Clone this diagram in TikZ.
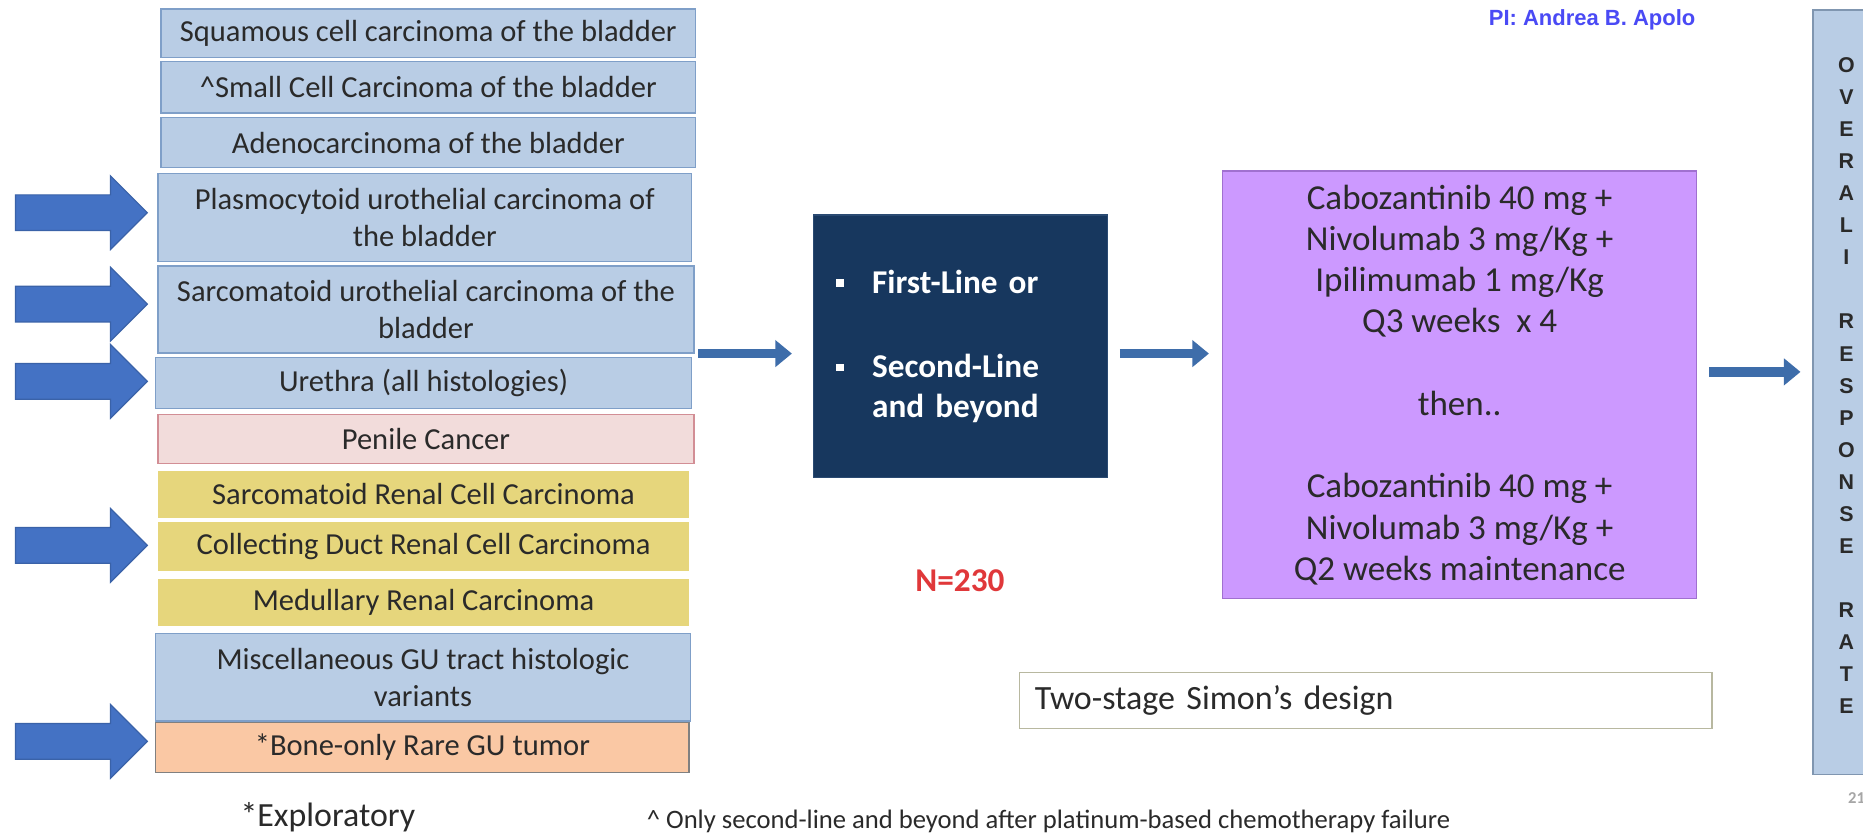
\documentclass[tikz,border=0pt]{standalone}
\usepackage{fontspec}
\setmainfont{Carlito}
\newfontfamily\headfont{Liberation Sans}
\usetikzlibrary{arrows.meta}

% palette
\definecolor{ink}{HTML}{2A2A2A}
\definecolor{blueFill}{HTML}{B9CDE5}
\definecolor{blueLine}{HTML}{7F9FC8}
\definecolor{pinkFill}{HTML}{F2DCDB}
\definecolor{pinkLine}{HTML}{D28E95}
\definecolor{yellowFill}{HTML}{E6D67C}
\definecolor{peachFill}{HTML}{FAC8A4}
\definecolor{peachLine}{HTML}{808080}
\definecolor{navy}{HTML}{17375E}
\definecolor{navyLine}{HTML}{2A4A72}
\definecolor{violet}{HTML}{CC99FF}
\definecolor{violetLine}{HTML}{A070D0}
\definecolor{orrLine}{HTML}{8096B0}
\definecolor{pointerFill}{HTML}{4472C4}
\definecolor{pointerLine}{HTML}{3A62A8}
\definecolor{flow}{HTML}{3E6DAA}
\definecolor{stageLine}{HTML}{B8B8A0}
\definecolor{nRed}{HTML}{E0383A}
\definecolor{piBlue}{HTML}{4A4AF5}

\newcommand{\sqbul}{\makebox[30pt][l]{\raisebox{5pt}{\rule{6.5pt}{6.5pt}}}}

\begin{document}
\begin{tikzpicture}[x=1pt,y=-1pt,
  box/.style={line width=1.2pt, inner sep=0pt, align=center, text=ink,
    font=\fontsize{25.7}{31}\selectfont},
  bluebox/.style={box, draw=blueLine, fill=blueFill},
  pinkbox/.style={box, draw=pinkLine, fill=pinkFill},
  yellowbox/.style={box, draw=none, fill=yellowFill},
  peachbox/.style={box, draw=peachLine, fill=peachFill},
  conn/.style={draw=flow, line width=8pt, -{Triangle[length=14pt,width=22pt]}},
  pointer/.pic={\filldraw[fill=pointerFill, draw=pointerLine, line width=1pt]
    (13,-15) -- (93,-15) -- (93,-31) -- (124,0) -- (93,31) -- (93,15) -- (13,15) -- cycle;},
  midtext/.style={font=\fontsize{29.5}{34.7}\selectfont, text=ink}
]
\useasboundingbox (0,0) rectangle (1568,703);
\fill[white] (0,0) rectangle (1568,703);

% histology column
\node[bluebox, minimum width=450pt, minimum height=41pt] (squam) at (360.5,28) {Squamous cell carcinoma of the bladder};
\node[bluebox, minimum width=450pt, minimum height=43pt] (small) at (360.5,73.5) {\textasciicircum Small Cell Carcinoma of the bladder};
\node[bluebox, minimum width=450pt, minimum height=42pt] (adeno) at (360.5,120) {Adenocarcinoma of the bladder};
\node[bluebox, minimum width=449pt, minimum height=74pt] (plasmo) at (357.5,183) {Plasmocytoid urothelial carcinoma of\\the bladder};
\node[bluebox, minimum width=451pt, minimum height=73pt] (sarcuro) at (358.5,260.5) {Sarcomatoid urothelial carcinoma of the\\bladder};
\node[bluebox, minimum width=451pt, minimum height=43pt] (urethra) at (356.5,322.5) {Urethra (all histologies)};
\node[pinkbox, minimum width=451pt, minimum height=41pt] (penile) at (358.5,369.5) {Penile Cancer};
\node[yellowbox, minimum width=447pt, minimum height=40pt] (sarcrcc) at (356.5,416) {Sarcomatoid Renal Cell Carcinoma};
\node[yellowbox, minimum width=447pt, minimum height=42pt] (duct) at (356.5,460) {Collecting Duct Renal Cell Carcinoma};
\node[yellowbox, minimum width=447pt, minimum height=40pt] (medul) at (356.5,507) {Medullary Renal Carcinoma};
\node[bluebox, minimum width=450pt, minimum height=74pt] (misc) at (356,570) {Miscellaneous GU tract histologic\\variants};
\node[peachbox, minimum width=449pt, minimum height=42pt] (bone) at (355.5,629) {*Bone-only Rare GU tumor};

% pointers on the left
\foreach \yy in {179,256,321,459,624} \pic at (0,\yy) {pointer};

% line of therapy
\node[fill=navy, draw=navyLine, line width=1pt, minimum width=247pt, minimum height=221pt,
  text width=209pt, inner xsep=19pt, inner ysep=0pt, align=left, text=white,
  font=\fontsize{28}{34}\selectfont\bfseries] (lineoft) at (808.5,291.5)
  {\sqbul First-Line or\\[37pt]\sqbul Second-Line\\\makebox[30pt]{}and beyond};

% treatment
\node[fill=violet, draw=violetLine, line width=1pt, minimum width=399pt, minimum height=360pt,
  inner sep=0pt, align=center, midtext] (treat) at (1228.5,324)
  {Cabozantinib 40 mg +\\Nivolumab 3 mg/Kg +\\Ipilimumab 1 mg/Kg\\Q3 weeks\ \ x 4\\[34.7pt]
   then..\\[34.7pt]Cabozantinib 40 mg +\\Nivolumab 3 mg/Kg +\\Q2 weeks maintenance};

% endpoint
\node[fill=blueFill, draw=orrLine, line width=1.2pt, minimum width=56pt, minimum height=643.5pt,
  inner sep=0pt] (orr) at (1554,330.25) {};
\node[align=center, inner sep=0pt, text=ink, font=\headfont\bfseries\fontsize{18}{27}\selectfont] (orrlabel) at (1554,324.6)
  {O\\V\\E\\R\\A\\L\\I\\[27pt]R\\E\\S\\P\\O\\N\\S\\E\\[27pt]R\\A\\T\\E};

% flow
\draw[conn, shorten <=3pt, shorten >=18pt] (sarcuro.south east) -- (sarcuro.south east -| lineoft.west);
\draw[conn, shorten <=10pt, shorten >=11pt] (sarcuro.south east -| lineoft.east) -- (sarcuro.south east -| treat.west);
\draw[conn, shorten <=10pt, shorten >=10pt] ([yshift=11pt]treat.east) -- ([yshift=11pt]treat.east -| orr.west);

% annotations
\node[text=nRed, font=\fontsize{28}{34}\selectfont\bfseries] (n) at (808,489) {N=230};
\node[draw=stageLine, fill=white, line width=1.2pt, text width=557pt, minimum height=47pt,
  inner xsep=13pt, inner ysep=0pt, align=left, font=\fontsize{28.6}{34}\selectfont, text=ink] (simon) at (1149.5,589.5) {Two-stage Simon’s design};
\node[text=piBlue, font=\headfont\bfseries\fontsize{18.5}{22}\selectfont] (pi) at (1340,17) {PI: Andrea B. Apolo};
\node[text=ink, font=\fontsize{28.5}{34}\selectfont] (explor) at (276,688) {*Exploratory};
\node[text=ink, font=\fontsize{22.4}{26}\selectfont] (foot) at (882.5,691) {\textasciicircum{} Only second-line and beyond after platinum-based chemotherapy failure};
\node[anchor=west, text=black!35, font=\fontsize{14}{16}\selectfont\bfseries] (page) at (1552,672) {21};
\end{tikzpicture}
\end{document}
